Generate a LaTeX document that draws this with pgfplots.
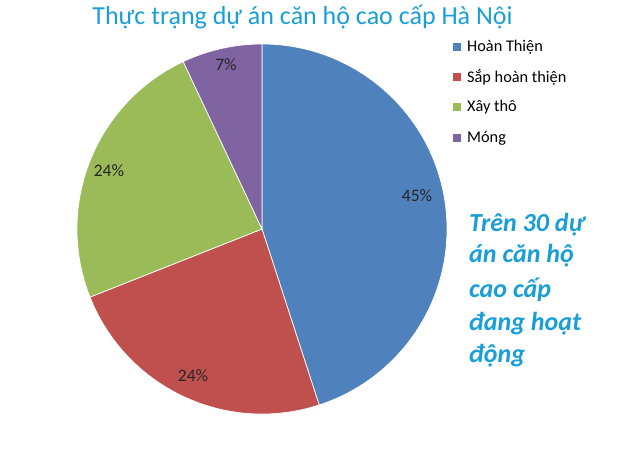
\documentclass[border=0pt]{standalone}
\usepackage{pgfplots}
\pgfplotsset{compat=1.18}
\usepackage{pgfplotstable}
\usepackage{fontspec}
\setmainfont{Carlito}

\definecolor{sliceA}{RGB}{79,129,189}
\definecolor{sliceB}{RGB}{192,80,77}
\definecolor{sliceC}{RGB}{155,187,89}
\definecolor{sliceD}{RGB}{128,100,162}
\definecolor{titlecol}{RGB}{25,158,216}

% share of projects by stage (percent)
\pgfplotstableread{
stage value
1 45
2 24
3 24
4 7
}\piedata

\begin{document}
\begin{tikzpicture}
% cumulative angles, clockwise from 12 o'clock
\pgfplotstablegetelem{0}{value}\of\piedata \let\vA\pgfplotsretval
\pgfplotstablegetelem{1}{value}\of\piedata \let\vB\pgfplotsretval
\pgfplotstablegetelem{2}{value}\of\piedata \let\vC\pgfplotsretval
\pgfplotstablegetelem{3}{value}\of\piedata \let\vD\pgfplotsretval
\pgfmathsetmacro\aA{90}
\pgfmathsetmacro\aB{\aA-3.6*\vA}
\pgfmathsetmacro\aC{\aB-3.6*\vB}
\pgfmathsetmacro\aD{\aC-3.6*\vC}
\pgfmathsetmacro\aE{\aD-3.6*\vD}
\def\R{185pt}
\begin{axis}[
  width=629pt, height=453pt, scale only axis,
  xmin=0, xmax=629, ymin=0, ymax=453,
  hide axis, clip=false,
]
\path (axis cs:0,0) rectangle (axis cs:629,453);

% slices
\fill[sliceA, draw=white, line width=0.7pt] (axis cs:262,224) -- ++(\aA:\R) arc[start angle=\aA, end angle=\aB, radius=\R] -- cycle;
\fill[sliceB, draw=white, line width=0.7pt] (axis cs:262,224) -- ++(\aB:\R) arc[start angle=\aB, end angle=\aC, radius=\R] -- cycle;
\fill[sliceC, draw=white, line width=0.7pt] (axis cs:262,224) -- ++(\aC:\R) arc[start angle=\aC, end angle=\aD, radius=\R] -- cycle;
\fill[sliceD, draw=white, line width=0.7pt] (axis cs:262,224) -- ++(\aD:\R) arc[start angle=\aD, end angle=\aE, radius=\R] -- cycle;

% data labels
\tikzset{pct/.style={font=\fontsize{17.5}{20}\selectfont, text=black!85}}
\node[pct] at (axis cs:417,257) {45\%};
\node[pct] at (axis cs:193,77) {24\%};
\node[pct] at (axis cs:109,282) {24\%};
\node[pct] at (axis cs:226,388) {7\%};

% title (bottom of the line is cut off, as in the original)
\begin{scope}
\clip (axis cs:0,424.5) rectangle (axis cs:629,453);
\node[anchor=base, inner sep=0pt, font=\fontsize{26}{30}\selectfont, text=titlecol] at (axis cs:302.5,428) {Thực trạng dự án căn hộ cao cấp Hà Nội};
\end{scope}

% legend
\fill[sliceA] (axis cs:453,402) rectangle (axis cs:461,410);
\fill[sliceB] (axis cs:453,372) rectangle (axis cs:461,380);
\fill[sliceC] (axis cs:453,342) rectangle (axis cs:461,350);
\fill[sliceD] (axis cs:453,311) rectangle (axis cs:461,319);
\node[anchor=west, inner sep=0pt, font=\fontsize{16.3}{18}\selectfont] at (axis cs:467,406) {Hoàn Thiện};
\node[anchor=west, inner sep=0pt, font=\fontsize{16.3}{18}\selectfont] at (axis cs:467,376) {Sắp hoàn thiện};
\node[anchor=west, inner sep=0pt, font=\fontsize{16.3}{18}\selectfont] at (axis cs:467,346) {Xây thô};
\node[anchor=west, inner sep=0pt, font=\fontsize{16.3}{18}\selectfont] at (axis cs:467,315) {Móng};

% side note
\tikzset{note/.style={anchor=base west, inner sep=0pt, text=titlecol,
  font=\fontsize{26}{30}\selectfont\bfseries\itshape}}
\node[note] at (axis cs:469,222) {Trên 30 dự};
\node[note] at (axis cs:469,190) {án căn hộ};
\node[note] at (axis cs:469,156) {cao cấp};
\node[note] at (axis cs:469,123) {đang hoạt};
\node[note] at (axis cs:469,91) {động};
\end{axis}
\end{tikzpicture}
\end{document}
